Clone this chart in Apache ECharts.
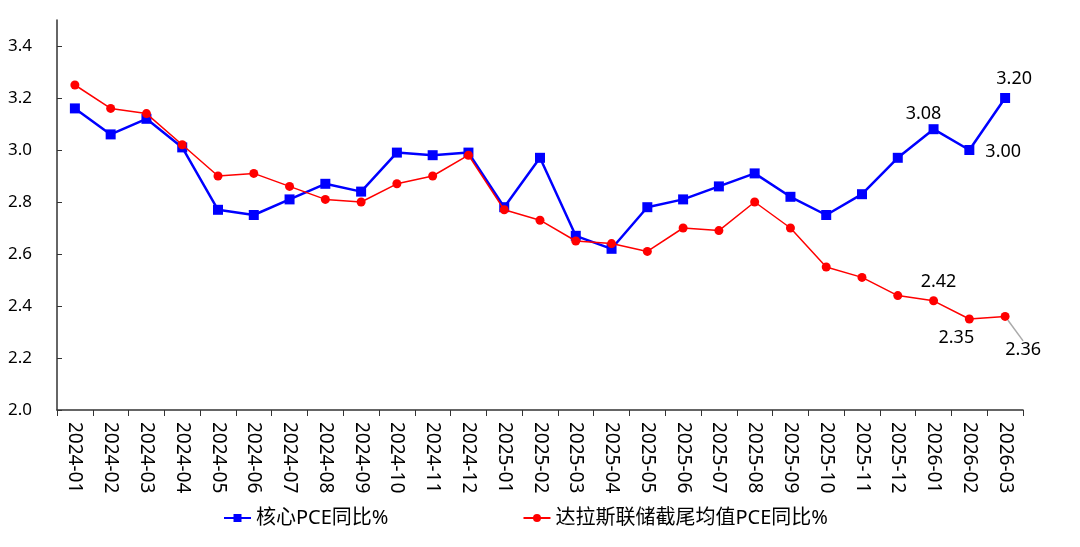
<!DOCTYPE html>
<html lang="zh">
<head>
<meta charset="UTF-8">
<title>PCE</title>
<script src="https://cdn.jsdelivr.net/npm/echarts@6/dist/echarts.min.js"></script>
<style>
  html, body { margin: 0; padding: 0; background: #fff; }
  #chart { width: 1080px; height: 547px; }
</style>
</head>
<body>
<div id="chart"></div>
<script>
var months = ['2024-01','2024-02','2024-03','2024-04','2024-05','2024-06','2024-07','2024-08','2024-09',
  '2024-10','2024-11','2024-12','2025-01','2025-02','2025-03','2025-04','2025-05','2025-06','2025-07',
  '2025-08','2025-09','2025-10','2025-11','2025-12','2026-01','2026-02','2026-03'];
var corePce = [3.16, 3.06, 3.12, 3.01, 2.77, 2.75, 2.81, 2.87, 2.84, 2.99, 2.98, 2.99,
  2.78, 2.97, 2.67, 2.62, 2.78, 2.81, 2.86, 2.91, 2.82, 2.75, 2.83, 2.97, 3.08, 3.00, 3.20];
var dallasPce = [3.25, 3.16, 3.14, 3.02, 2.90, 2.91, 2.86, 2.81, 2.80, 2.87, 2.90, 2.98,
  2.77, 2.73, 2.65, 2.64, 2.61, 2.70, 2.69, 2.80, 2.70, 2.55, 2.51, 2.44, 2.42, 2.35, 2.36];
var yTicks = [2.0, 2.2, 2.4, 2.6, 2.8, 3.0, 3.2, 3.4];

var font = 'Noto Sans, Noto Sans CJK SC, sans-serif';

// 只给最后几个点加数值标签
function labelled(arr, cfg) {
  return arr.map(function (v, i) {
    if (cfg[i]) {
      var item = { value: v, label: cfg[i].label };
      if (cfg[i].labelLine) item.labelLine = cfg[i].labelLine;
      return item;
    }
    return v;
  });
}

var blueLabels = {
  24: { label: { show: true, position: 'top', offset: [-10, 4] } },
  25: { label: { show: true, position: 'right', offset: [6, 2] } },
  26: { label: { show: true, position: 'top', offset: [9, 0] } }
};
var redLabels = {
  24: { label: { show: true, position: 'top' } },
  25: { label: { show: true, position: 'bottom' } },
  26: { label: { show: true, position: 'bottom' }, labelLine: { show: true } }
};
// 红线标签的挪动量
var redShift = { 24: { dx: 5, dy: 0 }, 25: { dx: -13, dy: 0 }, 26: { dx: 18, dy: 15 } };

var chart = echarts.init(document.getElementById('chart'));
chart.setOption({
  animation: false,
  textStyle: { fontFamily: font },
  grid: { left: 57, right: 57, top: 20, bottom: 137 },
  legend: {
    bottom: 14,
    left: 218,
    itemGap: 134,
    itemWidth: 27,
    itemHeight: 10,
    textStyle: { fontSize: 20, color: '#000', fontFamily: font },
    data: ['核心PCE同比%', '达拉斯联储截尾均值PCE同比%']
  },
  xAxis: {
    type: 'category',
    data: months,
    boundaryGap: true,
    axisLine: { lineStyle: { color: '#333', width: 1.5 } },
    axisTick: { show: true, length: 6, lineStyle: { color: '#333' } },
    axisLabel: { interval: 0, rotate: -90, fontSize: 19, color: '#000', margin: 12 }
  },
  yAxis: {
    type: 'value',
    min: 2.0,
    max: 3.5,
    interval: 0.2,
    splitLine: { show: false },
    axisLine: { show: true, lineStyle: { color: '#333', width: 1.5 } },
    axisTick: { show: true, inside: true, length: 5, lineStyle: { color: '#333' } },
    axisLabel: {
      fontSize: 17, color: '#000', margin: 25, showMaxLabel: false,
      formatter: function (v) { return yTicks.indexOf(+v.toFixed(1)) >= 0 ? v.toFixed(1) : ''; }
    }
  },
  series: [
    {
      name: '核心PCE同比%',
      type: 'line',
      data: labelled(corePce, blueLabels),
      symbol: 'rect',
      symbolSize: 10,
      z: 3,
      itemStyle: { color: '#0000ff' },
      lineStyle: { color: '#0000ff', width: 2.5 },
      label: { show: false, fontSize: 18, color: '#000', formatter: function (p) { return p.value.toFixed(2); } }
    },
    {
      name: '达拉斯联储截尾均值PCE同比%',
      type: 'line',
      data: labelled(dallasPce, redLabels),
      symbol: 'circle',
      symbolSize: 9,
      z: 4,
      itemStyle: { color: '#ff0000' },
      lineStyle: { color: '#ff0000', width: 1.5 },
      label: { show: false, fontSize: 18, color: '#000', formatter: function (p) { return p.value.toFixed(2); } },
      labelLine: { show: false, lineStyle: { color: '#aaa', width: 1.5 } },
      labelLayout: function (params) {
        return redShift[params.dataIndex] || {};
      }
    }
  ]
});
</script>
</body>
</html>
